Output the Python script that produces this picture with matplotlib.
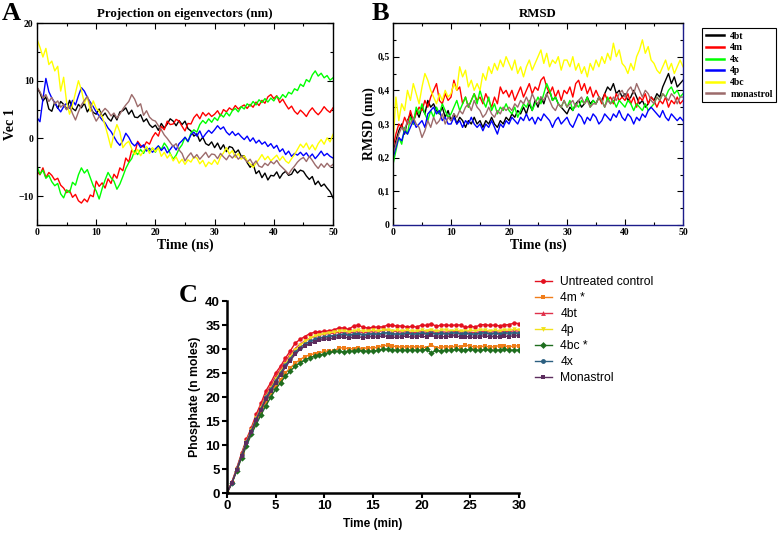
import numpy as np
import matplotlib
matplotlib.use("Agg")
import matplotlib.pyplot as plt
from matplotlib.ticker import MultipleLocator, FuncFormatter
from matplotlib.lines import Line2D

# ---- panel A / B : MD traces, one value every 0.5 ns ----
md_time = np.arange(0, 50.01, 0.5)
md_names = ["4bt", "4m", "4x", "4p", "4bc", "monastrol"]
md_colors = ["#000000", "#ff0000", "#00ff00", "#0000ff", "#ffff00", "#9c6b6b"]

vec_4bt = [8.8, 7.9, 6.5, 7.2, 5.1, 4.7, 6.3, 5.2, 6.4, 5.9,
           5.0, 6.6, 5.2, 4.8, 5.9, 5.3, 6.1, 4.6, 5.4, 4.5,
           4.2, 5.1, 3.8, 4.4, 3.5, 3.0, 4.1, 3.2, 4.6, 4.8,
           5.3, 4.2, 4.9, 3.7, 3.6, 4.1, 2.9, 3.4, 2.4, 1.9,
           2.3, 1.4, 2.6, 1.8, 2.5, 3.4, 3.0, 2.2, 3.1, 2.4,
           3.0, 1.7, 1.3, 0.4, 0.8, -0.5, 0.2, -0.9, -1.2, -0.6,
           -1.6, -0.8, -1.9, -1.1, -2.3, -1.4, -1.6, -2.5, -2.0, -3.1,
           -3.0, -4.2, -5.0, -4.4, -6.1, -5.6, -6.8, -6.0, -7.2, -6.4,
           -6.5, -5.8, -6.9, -6.1, -5.7, -6.4, -6.2, -5.3, -6.0, -5.5,
           -5.7, -6.5, -7.1, -6.6, -8.0, -7.4, -8.3, -7.9, -8.6, -9.2,
           -10.3]
vec_4m = [-5.7, -6.3, -5.1, -6.8, -5.9, -6.4, -7.2, -6.9, -8.1, -8.6,
          -9.4, -9.0, -10.2, -9.7, -10.8, -11.2, -10.5, -11.0, -9.8, -10.1,
          -7.4, -8.3, -7.7, -8.6, -7.0, -7.8, -6.2, -6.9, -5.1, -5.6,
          -3.4, -4.1, -2.0, -2.7, -0.5, -1.2, -1.5, -0.6, -1.0, 0.2,
          1.0, 0.4, 2.1, 1.5, 3.0, 2.4, 2.5, 3.3, 3.0, 2.1,
          1.3, 2.6, 2.5, 3.6, 4.2, 3.4, 4.5, 3.9, 4.4, 3.8,
          4.2, 4.8, 3.9, 5.0, 4.6, 5.3, 4.9, 5.7, 5.1, 5.5,
          5.8, 5.2, 5.9, 5.4, 6.3, 5.7, 6.6, 6.1, 7.2, 7.6,
          6.9, 7.4, 6.2, 6.8, 5.9, 5.1, 5.6, 4.7, 4.2, 4.9,
          4.4, 3.8, 4.7, 5.3, 4.6, 4.1, 4.7, 5.5, 4.9, 4.5,
          5.3]
vec_4x = [-4.8, -6.2, -5.5, -6.9, -6.4, -7.5, -8.2, -7.8, -9.6, -10.3,
          -8.9, -9.4, -7.6, -8.1, -6.3, -5.1, -6.0, -5.4, -6.8, -8.2,
          -9.1, -10.5, -8.7, -7.2, -5.9, -6.8, -7.4, -8.8, -7.9, -6.6,
          -5.2, -4.2, -3.5, -2.1, -2.8, -1.9, -2.6, -1.5, -2.2, -1.7,
          -2.4, -1.3, -1.9, -0.8, -1.5, -2.6, -3.6, -2.9, -1.8, -1.1,
          0.2, -0.6, 0.9, 1.5, 1.1, 2.4, 3.1, 2.6, 3.4, 2.8,
          3.6, 3.1, 4.2, 3.7, 4.5, 3.9, 4.8, 5.2, 4.6, 5.5,
          5.1, 6.0, 5.6, 6.4, 5.8, 6.7, 6.2, 6.9, 6.3, 7.0,
          6.5, 7.3, 6.8, 7.6, 7.1, 8.0, 7.7, 8.6, 8.3, 9.4,
          9.0, 10.2, 9.8, 11.0, 11.7, 10.8, 11.3, 10.5, 10.9, 10.1,
          10.5]
vec_4p = [3.6, 2.9, 6.8, 10.4, 8.1, 7.0, 6.2, 5.3, 4.6, 5.5,
          6.1, 5.2, 6.6, 5.8, 7.4, 8.8, 8.2, 7.1, 6.3, 5.5,
          4.6, 3.9, 3.2, 2.7, 1.8, 1.2, 0.3, -0.6, -1.2, -0.4,
          0.9, 0.2, -0.8, -1.3, -0.7, -1.6, -1.1, -2.2, -1.7, -2.4,
          -1.8, -1.3, -2.1, -1.5, -2.5, -1.9, -1.2, -2.0, -0.9, -0.4,
          0.2, -0.5, 0.6, 1.1, 0.4, 1.3, 0.1, 0.8, 1.4, 0.9,
          1.5, 2.2, 1.6, 2.0, 1.1, 0.6, 1.2, 0.5, 0.9, 0.3,
          -0.2, 0.4, -0.5, 0.1, -0.8, -0.3, -1.0, -0.6, -1.4, -0.9,
          -1.7, -1.2, -2.3, -1.8, -2.8, -2.2, -3.1, -2.6, -2.9, -2.4,
          -3.0, -2.5, -3.3, -2.7, -3.5, -2.9, -2.2, -3.0, -2.6, -3.1,
          -3.4]
vec_4bc = [17.2, 15.8, 14.1, 15.6, 12.8, 13.4, 11.7, 12.5, 8.2, 10.6,
           6.3, 4.2, 5.8, 7.9, 10.0, 8.4, 6.1, 7.3, 4.7, 6.5,
           5.2, 4.7, 3.8, 2.3, 0.4, -1.6, 0.8, 2.4, 1.1, -1.6,
           -0.9, -0.5, -1.8, -2.8, -1.9, -3.0, -2.2, -1.4, -2.6, -1.6,
           -2.3, -1.6, -3.1, -2.4, -3.4, -2.7, -3.9, -3.2, -4.3, -3.6,
           -4.5, -3.7, -4.1, -3.2, -3.4, -4.4, -3.8, -4.9, -4.1, -4.5,
           -3.7, -4.5, -3.2, -2.5, -1.6, -2.7, -2.1, -3.3, -2.6, -3.6,
           -3.0, -3.9, -4.4, -5.0, -4.3, -3.6, -2.8, -3.7, -3.1, -3.9,
           -3.4, -2.9, -3.8, -3.1, -3.9, -4.3, -3.5, -2.8, -1.9, -1.0,
           -1.6, -0.8, -1.9, -1.1, -2.0, -0.9, -0.2, -1.0, 0.1, -0.6,
           0.7]
vec_mon = [8.9, 8.1, 7.0, 7.6, 6.4, 7.1, 6.0, 6.5, 5.4, 5.9,
           5.0, 5.6, 4.3, 3.2, 4.6, 5.8, 6.6, 7.3, 5.9, 4.1,
           3.0, 3.8, 4.6, 5.2, 4.7, 3.9, 4.4, 3.5, 4.2, 5.1,
           5.8, 6.4, 7.6, 6.8, 5.5, 6.0, 4.0, 4.8, 3.7, 3.2,
           3.0, 2.2, 1.5, 0.6, 0.0, -0.7, -1.4, -0.9, -2.0, -2.6,
           -3.9, -3.1, -2.5, -3.4, -2.8, -3.6, -3.0, -2.4, -3.3, -2.7,
           -2.8, -3.5, -2.6, -3.2, -3.7, -2.9, -3.4, -2.8, -3.6, -3.1,
           -3.5, -4.1, -3.6, -4.5, -3.9, -4.8, -5.0, -4.3, -4.7, -4.0,
           -4.4, -3.8, -4.6, -5.1, -5.6, -6.2, -5.4, -4.8, -4.1, -3.6,
           -3.3, -4.0, -3.1, -3.8, -4.6, -5.2, -4.4, -5.0, -4.3, -4.9,
           -4.5]

rmsd_4bt = [0.21, 0.25, 0.28, 0.30, 0.27, 0.31, 0.33, 0.30, 0.34, 0.32,
            0.35, 0.33, 0.37, 0.35, 0.36, 0.34, 0.33, 0.35, 0.32, 0.34,
            0.31, 0.33, 0.30, 0.32, 0.31, 0.29, 0.31, 0.30, 0.32, 0.30,
            0.31, 0.29, 0.31, 0.30, 0.32, 0.30, 0.29, 0.31, 0.30, 0.32,
            0.31, 0.33, 0.32, 0.34, 0.33, 0.35, 0.33, 0.36, 0.34, 0.37,
            0.35, 0.38, 0.36, 0.39, 0.40, 0.37, 0.38, 0.36, 0.35, 0.34,
            0.33, 0.35, 0.34, 0.36, 0.37, 0.35, 0.36, 0.38, 0.36, 0.37,
            0.36, 0.38, 0.37, 0.39, 0.41, 0.40, 0.42, 0.39, 0.40, 0.38,
            0.39, 0.37, 0.38, 0.40, 0.38, 0.36, 0.37, 0.35, 0.36, 0.38,
            0.37, 0.39, 0.38, 0.41, 0.43, 0.45, 0.42, 0.44, 0.41, 0.42,
            0.43]
rmsd_4m = [0.23, 0.27, 0.30, 0.29, 0.32, 0.30, 0.34, 0.31, 0.33, 0.35,
           0.34, 0.37, 0.35, 0.38, 0.40, 0.42, 0.37, 0.36, 0.39, 0.37,
           0.38, 0.43, 0.40, 0.41, 0.36, 0.38, 0.35, 0.37, 0.39, 0.37,
           0.38, 0.36, 0.39, 0.37, 0.35, 0.38, 0.36, 0.41, 0.39, 0.40,
           0.38, 0.40, 0.37, 0.39, 0.41, 0.38, 0.40, 0.42, 0.39, 0.41,
           0.40, 0.43, 0.44, 0.41, 0.39, 0.41, 0.38, 0.40, 0.37, 0.40,
           0.39, 0.41, 0.38, 0.42, 0.43, 0.40, 0.42, 0.39, 0.41, 0.38,
           0.40, 0.38, 0.36, 0.39, 0.37, 0.38, 0.36, 0.39, 0.37, 0.38,
           0.37, 0.39, 0.36, 0.38, 0.35, 0.38, 0.37, 0.39, 0.36, 0.38,
           0.37, 0.35, 0.37, 0.36, 0.38, 0.35, 0.37, 0.36, 0.38, 0.36,
           0.37]
rmsd_4x = [0.18, 0.22, 0.26, 0.24, 0.29, 0.27, 0.32, 0.30, 0.35, 0.33,
           0.36, 0.33, 0.31, 0.34, 0.32, 0.35, 0.33, 0.36, 0.34, 0.32,
           0.33, 0.35, 0.37, 0.34, 0.36, 0.38, 0.35, 0.37, 0.39, 0.36,
           0.40, 0.37, 0.35, 0.38, 0.34, 0.36, 0.33, 0.35, 0.34, 0.36,
           0.34, 0.33, 0.35, 0.32, 0.34, 0.36, 0.35, 0.37, 0.34, 0.36,
           0.38, 0.36, 0.39, 0.42, 0.40, 0.37, 0.38, 0.36, 0.35, 0.37,
           0.35, 0.37, 0.34, 0.36, 0.35, 0.37, 0.36, 0.38, 0.35, 0.37,
           0.36, 0.38, 0.37, 0.35, 0.38, 0.36, 0.37, 0.35, 0.37, 0.36,
           0.35, 0.37, 0.36, 0.34, 0.36, 0.35, 0.34, 0.36, 0.34, 0.35,
           0.36, 0.38, 0.37, 0.39, 0.38, 0.40, 0.41, 0.39, 0.40, 0.38,
           0.39]
rmsd_4p = [0.20, 0.23, 0.26, 0.25, 0.28, 0.27, 0.29, 0.31, 0.29, 0.30,
           0.31, 0.29, 0.33, 0.34, 0.35, 0.33, 0.34, 0.31, 0.32, 0.30,
           0.30, 0.32, 0.30, 0.31, 0.29, 0.31, 0.30, 0.32, 0.30, 0.29,
           0.30, 0.28, 0.30, 0.29, 0.31, 0.29, 0.27, 0.30, 0.29, 0.31,
           0.30, 0.32, 0.31, 0.30, 0.32, 0.31, 0.33, 0.31, 0.32, 0.30,
           0.32, 0.31, 0.33, 0.32, 0.31, 0.29, 0.31, 0.32, 0.30, 0.31,
           0.32, 0.30, 0.29, 0.31, 0.33, 0.32, 0.30, 0.32, 0.31, 0.33,
           0.32, 0.30, 0.31, 0.33, 0.32, 0.31, 0.33, 0.32, 0.34, 0.32,
           0.31, 0.33, 0.32, 0.30, 0.32, 0.31, 0.33, 0.32, 0.34, 0.35,
           0.34, 0.33, 0.32, 0.34, 0.32, 0.31, 0.33, 0.32, 0.31, 0.32,
           0.31]
rmsd_4bc = [0.24, 0.38, 0.31, 0.36, 0.34, 0.40, 0.37, 0.42, 0.39, 0.36,
            0.41, 0.45, 0.43, 0.40, 0.38, 0.36, 0.39, 0.37, 0.40, 0.38,
            0.39, 0.42, 0.40, 0.47, 0.44, 0.46, 0.41, 0.43, 0.40, 0.42,
            0.40, 0.45, 0.43, 0.47, 0.45, 0.48, 0.46, 0.49, 0.47, 0.50,
            0.48, 0.46, 0.49, 0.45, 0.47, 0.44, 0.47, 0.49, 0.46, 0.48,
            0.50, 0.52, 0.48, 0.51, 0.47, 0.49, 0.48, 0.50, 0.46, 0.49,
            0.49, 0.47, 0.50, 0.46, 0.48, 0.45, 0.47, 0.44, 0.48, 0.46,
            0.49, 0.47, 0.50, 0.48, 0.51, 0.49, 0.54, 0.50, 0.52, 0.48,
            0.47, 0.45, 0.48, 0.46, 0.50, 0.52, 0.55, 0.51, 0.53, 0.49,
            0.48, 0.46, 0.45, 0.47, 0.49, 0.46, 0.48, 0.45, 0.47, 0.49,
            0.47]
rmsd_mon = [0.21, 0.24, 0.27, 0.29, 0.28, 0.31, 0.30, 0.32, 0.30, 0.29,
            0.26, 0.28, 0.31, 0.29, 0.32, 0.30, 0.31, 0.33, 0.30, 0.32,
            0.31, 0.33, 0.32, 0.34, 0.33, 0.35, 0.36, 0.34, 0.37, 0.35,
            0.34, 0.32, 0.33, 0.35, 0.33, 0.32, 0.34, 0.33, 0.35, 0.34,
            0.35, 0.34, 0.36, 0.35, 0.37, 0.36, 0.38, 0.36, 0.39, 0.37,
            0.36, 0.38, 0.37, 0.39, 0.37, 0.35, 0.34, 0.36, 0.35, 0.37,
            0.35, 0.36, 0.37, 0.35, 0.37, 0.38, 0.36, 0.37, 0.35, 0.36,
            0.36, 0.38, 0.37, 0.35, 0.37, 0.36, 0.38, 0.37, 0.39, 0.40,
            0.38, 0.40, 0.41, 0.39, 0.42, 0.40, 0.38, 0.40, 0.39, 0.37,
            0.36, 0.38, 0.37, 0.39, 0.38, 0.37, 0.39, 0.38, 0.36, 0.38,
            0.38]

vec_series = [vec_4bt, vec_4m, vec_4x, vec_4p, vec_4bc, vec_mon]
rmsd_series = [rmsd_4bt, rmsd_4m, rmsd_4x, rmsd_4p, rmsd_4bc, rmsd_mon]

# ---- panel C : phosphate release, every 0.5 min ----
pi_time = np.arange(0, 30.01, 0.5)
pi_names = ["Untreated control", "4m *", "4bt", "4p", "4bc *", "4x", "Monastrol"]
pi_colors = ["#e3101f", "#f07d1a", "#e0304a", "#f2e21b", "#1f6e1f", "#2b5f80", "#5c2d5e"]
pi_markers = ["o", "s", "^", "v", "D", "o", "s"]

pi_control = [0, 2.3, 5.2, 8.3, 11.2, 13.6, 16.4, 18.7, 21.3, 23.0,
              25.0, 26.4, 28.1, 29.6, 31.2, 32.0, 32.6, 33.2, 33.5, 33.6,
              33.7, 33.8, 34.0, 34.4, 34.4, 34.1, 34.8, 35.0, 34.5, 34.4,
              34.5, 34.6, 34.6, 35.0, 34.9, 34.8, 34.8, 34.6, 34.7, 34.6,
              35.0, 34.9, 35.3, 34.7, 35.0, 35.0, 34.9, 35.0, 35.0, 34.5,
              34.7, 34.6, 35.0, 35.1, 34.9, 35.0, 34.8, 35.0, 35.1, 35.4,
              35.3]
pi_4m = [0, 2.0, 4.8, 7.6, 10.2, 12.6, 14.8, 16.9, 18.9, 20.8,
         22.3, 23.6, 25.0, 26.1, 27.0, 27.8, 28.4, 28.8, 29.0, 29.2,
         29.5, 29.6, 29.5, 30.3, 30.2, 30.1, 30.0, 30.2, 30.1, 30.3,
         30.2, 30.4, 30.7, 30.8, 30.6, 30.5, 30.4, 30.5, 30.4, 30.5,
         30.4, 30.3, 30.9, 30.2, 30.4, 30.5, 30.4, 30.6, 30.5, 30.8,
         30.6, 30.4, 30.5, 30.6, 30.4, 30.5, 30.7, 30.6, 30.5, 30.6,
         30.7]
pi_4bt = [0, 2.2, 5.0, 8.1, 10.9, 13.3, 15.9, 18.1, 20.6, 22.4,
          24.3, 25.9, 27.5, 28.9, 30.1, 31.0, 31.7, 32.2, 32.6, 32.9,
          33.1, 33.2, 33.3, 33.5, 33.4, 33.3, 33.5, 33.6, 33.4, 33.5,
          33.6, 33.5, 33.9, 34.0, 33.7, 33.6, 33.5, 33.6, 33.4, 33.5,
          33.6, 33.5, 33.7, 33.4, 33.6, 33.5, 33.6, 33.7, 33.5, 33.6,
          33.5, 33.4, 33.6, 33.7, 33.5, 33.6, 33.5, 33.7, 33.6, 33.8,
          33.7]
pi_4p = [0, 2.1, 4.9, 7.9, 10.7, 13.1, 15.6, 17.8, 20.1, 21.8,
         23.7, 25.3, 26.9, 28.4, 29.8, 30.8, 31.6, 32.2, 32.7, 33.0,
         33.2, 33.4, 33.5, 33.7, 33.8, 33.6, 33.8, 33.9, 33.7, 33.8,
         33.9, 33.8, 33.9, 34.0, 33.8, 33.9, 33.8, 33.9, 33.7, 33.8,
         33.9, 33.8, 34.0, 33.7, 33.9, 34.0, 33.8, 33.9, 33.8, 33.7,
         33.9, 33.8, 34.0, 33.9, 33.8, 33.9, 33.8, 34.0, 33.9, 34.1,
         34.0]
pi_4bc = [0, 2.0, 4.6, 7.3, 9.8, 12.2, 14.3, 16.3, 18.2, 20.0,
          21.6, 23.0, 24.3, 25.4, 26.4, 27.1, 27.7, 28.2, 28.5, 28.8,
          28.9, 29.3, 29.5, 29.5, 29.4, 29.6, 29.5, 29.7, 29.6, 29.5,
          29.6, 29.7, 30.0, 29.9, 29.8, 29.7, 29.8, 29.7, 29.8, 29.7,
          29.8, 29.9, 29.2, 29.7, 29.6, 29.8, 29.7, 29.9, 29.8, 29.7,
          30.0, 29.8, 29.7, 29.9, 29.8, 29.7, 29.8, 29.9, 29.8, 29.7,
          29.8]
pi_4x = [0, 2.1, 4.9, 7.9, 10.6, 13.0, 15.5, 17.6, 19.9, 21.6,
         23.4, 25.0, 26.6, 28.0, 29.3, 30.3, 31.0, 31.6, 32.0, 32.3,
         32.5, 32.7, 32.8, 33.0, 33.1, 32.9, 33.1, 33.2, 33.0, 33.1,
         33.2, 33.1, 33.3, 33.4, 33.2, 33.1, 33.2, 33.3, 33.1, 33.2,
         33.3, 33.2, 33.4, 33.1, 33.3, 33.2, 33.3, 33.4, 33.2, 33.3,
         33.2, 33.1, 33.3, 33.4, 33.2, 33.3, 33.2, 33.4, 33.3, 33.4,
         33.3]
pi_mon = [0, 2.1, 4.8, 7.7, 10.4, 12.7, 15.2, 17.3, 19.5, 21.2,
          23.0, 24.6, 26.2, 27.6, 28.9, 29.9, 30.6, 31.1, 31.5, 31.8,
          32.0, 32.1, 32.2, 32.4, 32.5, 32.3, 32.4, 32.6, 32.3, 32.5,
          32.6, 32.4, 32.8, 32.6, 32.5, 32.4, 32.6, 32.7, 32.4, 32.6,
          32.7, 32.5, 32.9, 32.4, 32.6, 32.5, 32.7, 32.8, 32.5, 32.6,
          32.5, 32.4, 32.6, 32.8, 32.5, 32.6, 32.5, 32.7, 32.6, 32.8,
          32.7]
pi_series = [pi_control, pi_4m, pi_4bt, pi_4p, pi_4bc, pi_4x, pi_mon]

SERIF = "Liberation Serif"
SANS = "Liberation Sans"

fig = plt.figure(figsize=(7.78, 5.33), dpi=100)


def grace_axes(ax):
    ax.tick_params(which="both", direction="in", top=True, right=True,
                   labelsize=7, pad=2.5)
    ax.tick_params(which="major", length=4, width=0.8)
    ax.tick_params(which="minor", length=2, width=0.8)
    for lab in ax.get_xticklabels() + ax.get_yticklabels():
        lab.set_fontfamily(SERIF)
        lab.set_fontweight("bold")
    for sp in ax.spines.values():
        sp.set_linewidth(1.0)


# Panel A
axA = fig.add_axes([37 / 778, 1 - 225 / 533, 296 / 778, 202 / 533])
for vals, col in zip(vec_series, md_colors):
    axA.plot(md_time, vals, color=col, lw=1.0)
axA.set_xlim(0, 50)
axA.set_ylim(-15, 20)
axA.xaxis.set_major_locator(MultipleLocator(10))
axA.xaxis.set_minor_locator(MultipleLocator(5))
axA.yaxis.set_major_locator(MultipleLocator(10))
axA.yaxis.set_minor_locator(MultipleLocator(5))
grace_axes(axA)
axA.set_title("Projection on eigenvectors (nm)", fontfamily=SERIF,
              fontweight="bold", fontsize=9.3, pad=4)
axA.set_xlabel("Time (ns)", fontfamily=SERIF, fontweight="bold",
               fontsize=10, labelpad=1)
axA.set_ylabel("Vec 1", fontfamily=SERIF, fontweight="bold",
               fontsize=10, labelpad=1)

# Panel B
axB = fig.add_axes([393 / 778, 1 - 225 / 533, 290 / 778, 202 / 533])
lines = []
for vals, col, name in zip(rmsd_series, md_colors, md_names):
    ln, = axB.plot(md_time, vals, color=col, lw=1.0, label=name)
    lines.append(ln)
axB.set_xlim(0, 50)
axB.set_ylim(0, 0.6)
axB.xaxis.set_major_locator(MultipleLocator(10))
axB.xaxis.set_minor_locator(MultipleLocator(5))
axB.set_yticks([0, 0.1, 0.2, 0.3, 0.4, 0.5])
axB.yaxis.set_minor_locator(MultipleLocator(0.05))
axB.yaxis.set_major_formatter(FuncFormatter(
    lambda v, p: "0" if abs(v) < 1e-9 else ("%.1f" % v).replace(".", ",")))
grace_axes(axB)
axB.spines["right"].set_color("#1c1c8a")
axB.spines["bottom"].set_color("#1c1c8a")
axB.set_title("RMSD", fontfamily=SERIF, fontweight="bold", fontsize=9.3, pad=4)
axB.set_xlabel("Time (ns)", fontfamily=SERIF, fontweight="bold",
               fontsize=10, labelpad=1)
axB.set_ylabel("RMSD (nm)", fontfamily=SERIF, fontweight="bold",
               fontsize=10, labelpad=1)
legB = fig.legend(handles=lines, loc="upper left",
                  bbox_to_anchor=(702 / 778, 1 - 28 / 533),
                  prop={"family": SERIF, "weight": "bold", "size": 7},
                  fancybox=False, edgecolor="black", framealpha=1,
                  handlelength=1.9, handletextpad=0.6, labelspacing=0.26,
                  borderpad=0.4, borderaxespad=0)
legB.get_frame().set_linewidth(0.8)
for h in legB.get_lines():
    h.set_linewidth(1.8)

# Panel C
axC = fig.add_axes([227 / 778, 1 - 493 / 533, 292 / 778, 192 / 533])
handles = []
for vals, col, mk, name in zip(pi_series, pi_colors, pi_markers, pi_names):
    axC.plot(pi_time, vals, color=col, lw=1.0, marker=mk, markersize=3.2,
             markeredgewidth=0)
    handles.append(Line2D([], [], color=col, lw=1.0, marker=mk,
                          markersize=3.5, markeredgewidth=0, label=name))
axC.set_xlim(0, 30)
axC.set_ylim(0, 40)
axC.set_xticks(range(0, 31, 5))
axC.set_yticks(range(0, 41, 5))
axC.spines["top"].set_visible(False)
axC.spines["right"].set_visible(False)
axC.spines["left"].set_linewidth(1.8)
axC.spines["bottom"].set_linewidth(1.8)
axC.tick_params(direction="out", length=3.5, width=1.5, labelsize=9.5, pad=1.5)
for lab in axC.get_xticklabels() + axC.get_yticklabels():
    lab.set_fontfamily(SANS)
    lab.set_fontweight("bold")
axC.set_xlabel("Time (min)", fontfamily=SANS, fontweight="bold",
               fontsize=8.5, labelpad=4)
axC.set_ylabel("Phosphate (n moles)", fontfamily=SANS, fontweight="bold",
               fontsize=8.8, labelpad=3)
fig.legend(handles=handles, loc="upper left",
           bbox_to_anchor=(535 / 778, 1 - 276 / 533),
           prop={"family": SANS, "size": 8.7}, frameon=False,
           handlelength=1.4, handletextpad=0.7, labelspacing=0.33,
           borderaxespad=0, borderpad=0)

# panel letters
fig.text(2 / 778, 1 - 2 / 533, "A", fontfamily=SERIF, fontweight="bold",
         fontsize=19, va="top", ha="left")
fig.text(372 / 778, 1 - 2 / 533, "B", fontfamily=SERIF, fontweight="bold",
         fontsize=19, va="top", ha="left")
fig.text(179 / 778, 1 - 284 / 533, "C", fontfamily=SERIF, fontweight="bold",
         fontsize=19, va="top", ha="left")

fig.savefig("out.png", dpi=100)
